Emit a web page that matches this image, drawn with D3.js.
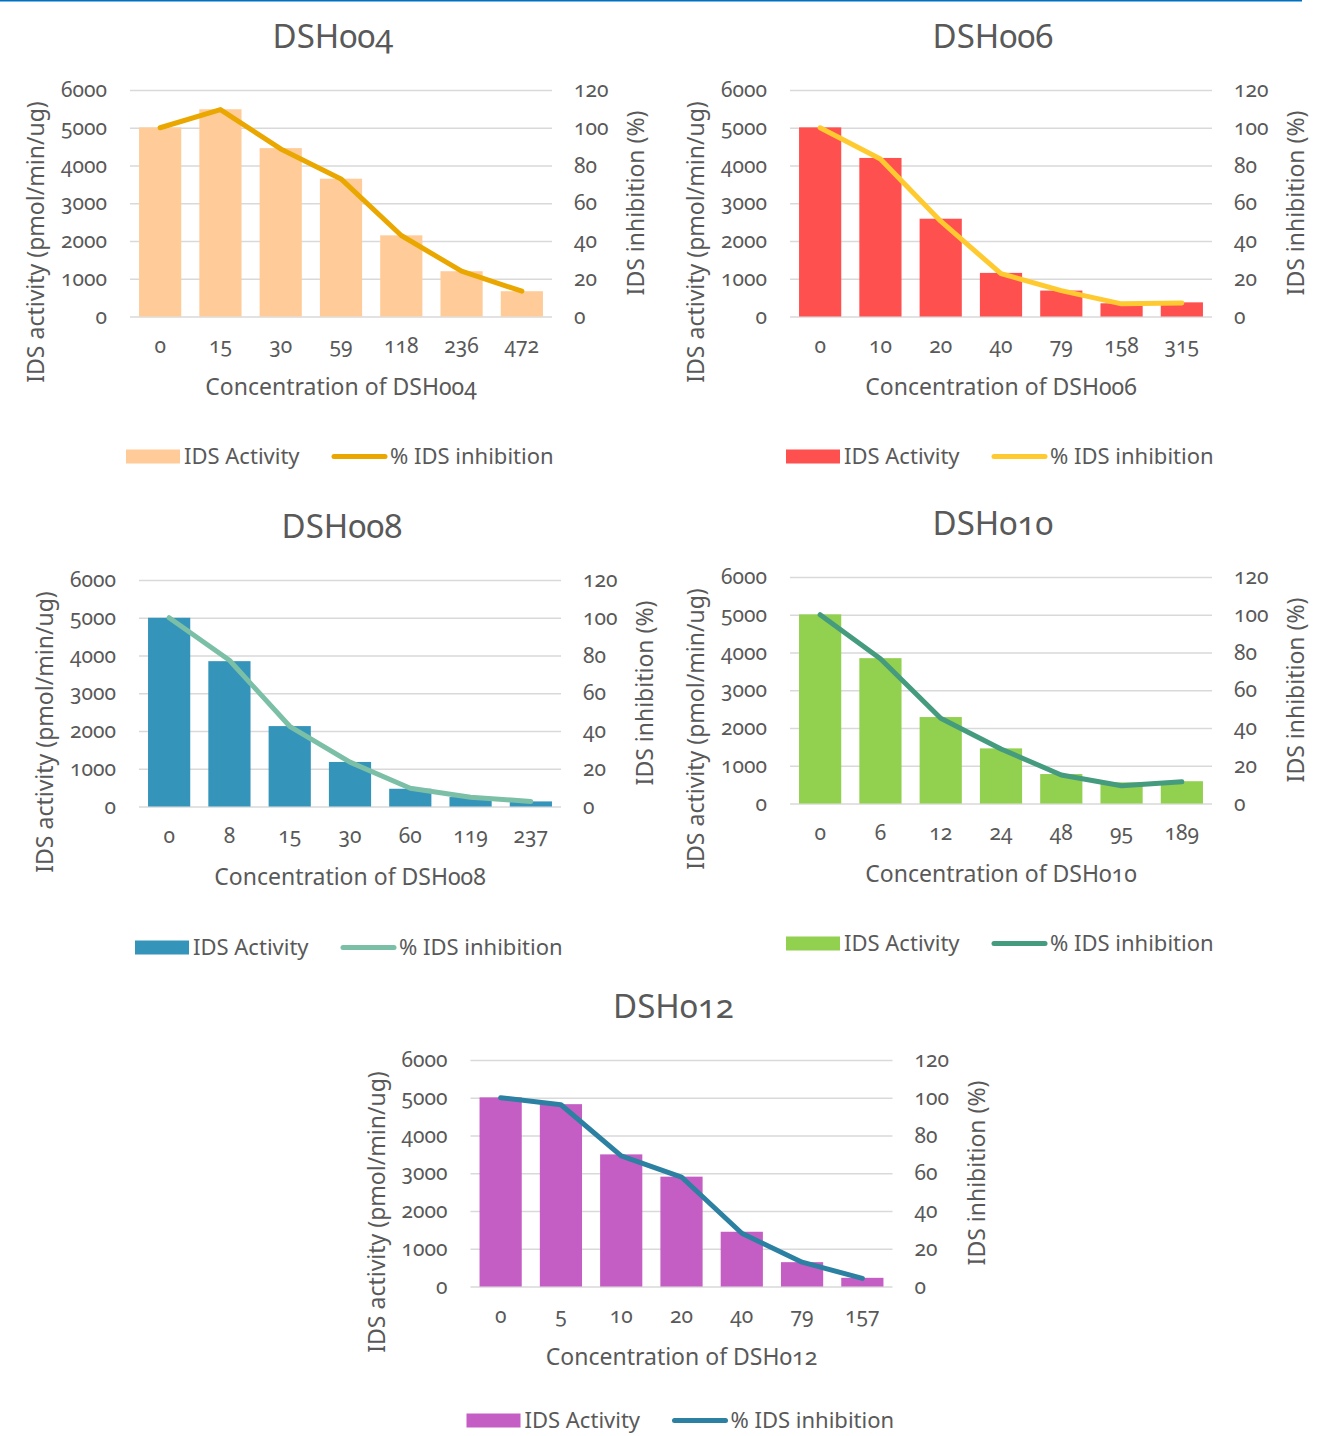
<!DOCTYPE html>
<html>
<head>
<meta charset="utf-8">
<script src="https://cdn.jsdelivr.net/npm/d3@7"></script>
<style>
  html, body { margin: 0; padding: 0; background: #ffffff; }
  svg { display: block; }
  text {
    font-family: "Noto Sans", "Open Sans", sans-serif;
    fill: #595959;
    font-variant-numeric: oldstyle-nums;
    font-feature-settings: "onum" 1;
  }
</style>
</head>
<body>
<svg id="chart" width="1323" height="1436"></svg>
<script>
// Concentrations (x categories), IDS activity (bars) and % inhibition (lines)
const dsh004Conc = ["0", "15", "30", "59", "118", "236", "472"];
const dsh004Activity = [5010, 5490, 4460, 3650, 2150, 1200, 670];
const dsh004Inhibition = [100, 109.6, 88.8, 72.9, 42.9, 24, 13.4];

const dsh006Conc = ["0", "10", "20", "40", "79", "158", "315"];
const dsh006Activity = [5010, 4200, 2590, 1155, 687, 350, 375];
const dsh006Inhibition = [100, 83.4, 50.5, 22.7, 13.7, 6.7, 7.2];

const dsh008Conc = ["0", "8", "15", "30", "60", "119", "237"];
const dsh008Activity = [5000, 3850, 2130, 1180, 470, 250, 135];
const dsh008Inhibition = [100, 77.5, 42.5, 23.5, 9.7, 4.9, 2.7];

const dsh010Conc = ["0", "6", "12", "24", "48", "95", "189"];
const dsh010Activity = [5010, 3850, 2290, 1460, 780, 560, 590];
const dsh010Inhibition = [100, 76.7, 45.2, 28.9, 15.1, 9.4, 11.5];

const dsh012Conc = ["0", "5", "10", "20", "40", "79", "157"];
const dsh012Activity = [5010, 4830, 3500, 2910, 1450, 645, 230];
const dsh012Inhibition = [100, 96.3, 69.2, 58, 28.2, 12.9, 4.3];

const activityTicks = [0, 1000, 2000, 3000, 4000, 5000, 6000];
const inhibitionTicks = [0, 20, 40, 60, 80, 100, 120];

const seriesNames = ["IDS Activity", "% IDS inhibition"];

// Panel layout: plot-area box, legend offset and colours for each compound
const panels = [
  { name: "DSH004", conc: dsh004Conc, act: dsh004Activity, inh: dsh004Inhibition,
    left: 130, top: 90, legendDy: 140, bar: "#FFCC99", line: "#EAA700" },
  { name: "DSH006", conc: dsh006Conc, act: dsh006Activity, inh: dsh006Inhibition,
    left: 790, top: 90, legendDy: 140, bar: "#FF5050", line: "#FFCA30" },
  { name: "DSH008", conc: dsh008Conc, act: dsh008Activity, inh: dsh008Inhibition,
    left: 139, top: 580, legendDy: 141, bar: "#3494BA", line: "#7BC0A6" },
  { name: "DSH010", conc: dsh010Conc, act: dsh010Activity, inh: dsh010Inhibition,
    left: 790, top: 577, legendDy: 140, bar: "#92D050", line: "#459B7D" },
  { name: "DSH012", conc: dsh012Conc, act: dsh012Activity, inh: dsh012Inhibition,
    left: 470.5, top: 1060, legendDy: 134, bar: "#C55EC4", line: "#2C80A1" }
];

const plotW = 422, plotH = 226.5;
const tickFont = 21, titleFont = 33, axisTitleFont = 23, legendFont = 22;
const svg = d3.select("#chart");

// Blue rule along the top edge
svg.append("line")
  .attr("x1", 0).attr("x2", 1302).attr("y1", 0.75).attr("y2", 0.75)
  .attr("stroke", "#0070C0").attr("stroke-width", 1.5);

panels.forEach(p => {
  const g = svg.append("g").attr("transform", `translate(${p.left},${p.top})`);

  const x = d3.scaleBand().domain(p.conc).range([0, plotW])
    .paddingInner(0.3).paddingOuter(0.15);
  const yL = d3.scaleLinear().domain([0, 6000]).range([plotH, 0]);
  const yR = d3.scaleLinear().domain([0, 120]).range([plotH, 0]);

  // Horizontal gridlines
  const grid = g.append("g").call(
    d3.axisRight(yL).tickValues(activityTicks).tickSize(plotW).tickFormat("")
  );
  grid.select(".domain").remove();
  grid.selectAll("line").attr("stroke", "#D9D9D9").attr("stroke-width", 1.6);

  // Left axis labels
  const axL = g.append("g").call(
    d3.axisLeft(yL).tickValues(activityTicks).tickSize(0).tickPadding(23).tickFormat(d3.format("d"))
  );
  axL.select(".domain").remove();
  axL.selectAll("text").attr("font-size", tickFont).attr("fill", "#595959");
  axL.attr("font-family", null);

  // Right axis labels
  const axR = g.append("g").attr("transform", `translate(${plotW},0)`).call(
    d3.axisRight(yR).tickValues(inhibitionTicks).tickSize(0).tickPadding(22).tickFormat(d3.format("d"))
  );
  axR.select(".domain").remove();
  axR.selectAll("text").attr("font-size", tickFont).attr("fill", "#595959");
  axR.attr("font-family", null);

  // Category axis
  const axB = g.append("g").attr("transform", `translate(0,${plotH})`).call(
    d3.axisBottom(x).tickSize(0).tickPadding(22)
  );
  axB.select(".domain").remove();
  axB.selectAll("text").attr("font-size", tickFont).attr("fill", "#595959");
  axB.attr("font-family", null);

  // Bars
  g.selectAll("rect.bar").data(p.act).join("rect")
    .attr("class", "bar")
    .attr("x", (d, i) => x(p.conc[i]))
    .attr("width", x.bandwidth())
    .attr("y", d => yL(d))
    .attr("height", d => plotH - yL(d))
    .attr("fill", p.bar);

  // Inhibition line
  const line = d3.line()
    .x((d, i) => x(p.conc[i]) + x.bandwidth() / 2)
    .y(d => yR(d));
  g.append("path").datum(p.inh)
    .attr("d", line)
    .attr("fill", "none")
    .attr("stroke", p.line)
    .attr("stroke-width", 5)
    .attr("stroke-linecap", "round")
    .attr("stroke-linejoin", "round");

  // Title
  g.append("text")
    .attr("x", plotW / 2 - 8).attr("y", -54).attr("dy", "0.35em")
    .attr("text-anchor", "middle").attr("font-size", titleFont)
    .text(p.name);

  // Axis titles
  g.append("text")
    .attr("x", plotW / 2).attr("y", plotH + 70).attr("dy", "0.35em")
    .attr("text-anchor", "middle").attr("font-size", axisTitleFont)
    .text("Concentration of " + p.name);

  g.append("text")
    .attr("transform", `translate(-94,152) rotate(-90)`)
    .attr("dy", "0.35em")
    .attr("text-anchor", "middle").attr("font-size", axisTitleFont)
    .text("IDS activity (pmol/min/ug)");

  g.append("text")
    .attr("transform", `translate(${plotW + 84},113) rotate(-90)`)
    .attr("dy", "0.35em")
    .attr("text-anchor", "middle").attr("font-size", axisTitleFont)
    .text("IDS inhibition (%)");

  // Legend
  const leg = g.append("g").attr("transform", `translate(0,${plotH + p.legendDy})`);
  leg.append("rect").attr("x", -4).attr("y", -7).attr("width", 54).attr("height", 14)
    .attr("fill", p.bar);
  leg.append("text").attr("x", 54).attr("dy", "0.35em").attr("font-size", legendFont)
    .text(seriesNames[0]);
  leg.append("line").attr("x1", 204).attr("x2", 255).attr("y1", 0).attr("y2", 0)
    .attr("stroke", p.line).attr("stroke-width", 5).attr("stroke-linecap", "round");
  leg.append("text").attr("x", 260).attr("dy", "0.35em").attr("font-size", legendFont)
    .text(seriesNames[1]);
});
</script>
</body>
</html>
